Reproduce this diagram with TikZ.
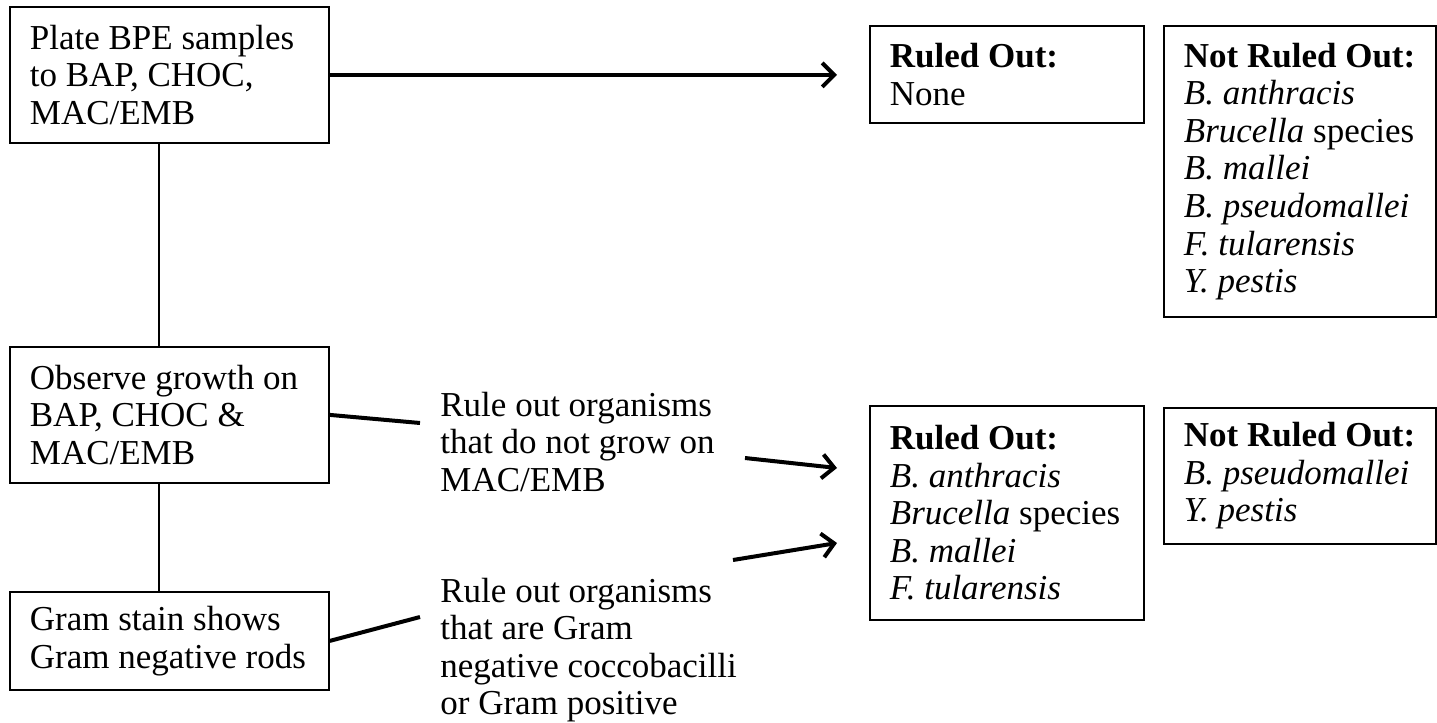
\documentclass[tikz,border=0pt]{standalone}
\usepackage{fontspec}
\setmainfont{Liberation Serif}
\usetikzlibrary{arrows.meta}
\frenchspacing

\tikzset{
  box/.style={draw, line width=0.9pt, anchor=north west, align=flush left, inner xsep=10pt, inner ysep=0pt, font=\fontsize{17.5}{18.8}\selectfont},
  note/.style={anchor=west, align=flush left, inner sep=0pt, font=\fontsize{17.5}{18.8}\selectfont},
  thin line/.style={line width=0.7pt},
  thick line/.style={line width=2pt},
  thick arrow/.style={line width=2pt, -{Straight Barb[length=6pt,width=12pt,line width=2pt]}},
}

\begin{document}
\begin{tikzpicture}[x=0.5pt,y=0.5pt,yscale=-1,xscale=1]
\useasboundingbox (0,0) rectangle (1437,723);
%Box: steps on the left
\node[box, text width=139.5pt, minimum height=68pt] (plate) at (9,6) {Plate BPE samples\\to BAP, CHOC,\\MAC/EMB};
\node[box, text width=139.5pt, minimum height=68pt] (observe) at (9,346) {Observe growth on\\BAP, CHOC \&\\MAC/EMB};
\node[box, text width=139.5pt, minimum height=49pt] (gram) at (9,591) {Gram stain shows\\Gram negative rods};
%Box: first result
\node[box, text width=117pt, minimum height=48.5pt] (ruled1) at (869,25) {\textbf{Ruled Out:}\\None};
\node[box, text width=116pt, minimum height=145.5pt] (notruled1) at (1163,25) {\textbf{Not Ruled Out:}\\\textit{B. anthracis}\\\textit{Brucella} species\\\textit{B. mallei}\\\textit{B. pseudomallei}\\\textit{F. tularensis}\\\textit{Y. pestis}};
%Box: second result
\node[box, text width=117pt, minimum height=107pt] (ruled2) at (869,405) {\textbf{Ruled Out:}\\\textit{B. anthracis}\\\textit{Brucella} species\\\textit{B. mallei}\\\textit{F. tularensis}};
\node[box, text width=116pt, minimum height=68pt] (notruled2) at (1163,407) {\textbf{Not Ruled Out:}\\\textit{B. pseudomallei}\\\textit{Y. pestis}};
%Text: reasons
\node[note] (growrule) at (440,442) {Rule out organisms\\that do not grow on\\MAC/EMB};
\node[note] (gramrule) at (440,650) {Rule out organisms\\that are Gram\\negative coccobacilli\\or Gram positive};

\coordinate (growin) at (420,423);
\coordinate (growout) at (745,458);
\coordinate (growtip) at (837,468);
\coordinate (gramin) at (420,617);
\coordinate (gramout) at (733,560);
\coordinate (gramtip) at (837,543);

%Connectors
\draw[thin line] ([xshift=-5.25pt]plate.south) -- ([xshift=-5.25pt]observe.north);
\draw[thin line] ([xshift=-5.25pt]observe.south) -- ([xshift=-5.25pt]gram.north);
\draw[thick arrow] (plate.east) -- ([xshift=-16pt]ruled1.west |- plate.east);
\draw[thick line] (observe.east) -- (growin);
\draw[thick arrow] (growout) -- (growtip);
\draw[thick line] (gram.east) -- (gramin);
\draw[thick arrow] (gramout) -- (gramtip);
\end{tikzpicture}
\end{document}
